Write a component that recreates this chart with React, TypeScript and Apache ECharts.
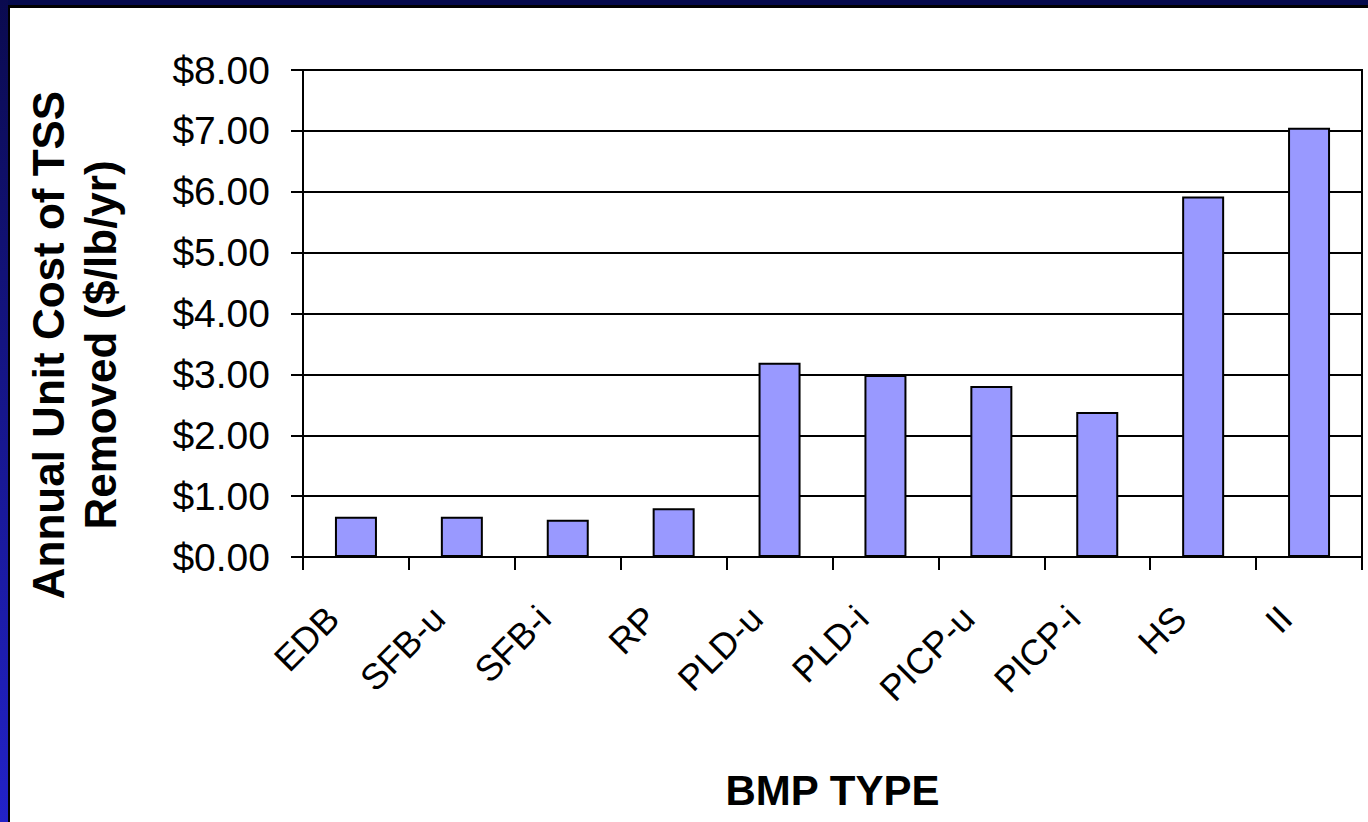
import React, { useEffect, useRef } from "react";
import * as echarts from "echarts";

const categories = ["EDB", "SFB-u", "SFB-i", "RP", "PLD-u", "PLD-i", "PICP-u", "PICP-i", "HS", "II"];
const costs = [0.66, 0.66, 0.61, 0.8, 3.19, 2.99, 2.81, 2.38, 5.92, 7.05];
const yTitleLines = ["Annual Unit Cost of TSS", "Removed ($/lb/yr)"];
const xTitle = "BMP TYPE";

const FONT = "'Liberation Sans', Arial, Helvetica, sans-serif";

export default function App() {
  const ref = useRef<HTMLDivElement>(null);
  useEffect(() => {
    if (!ref.current) return;
    const chart = echarts.init(ref.current, undefined, { renderer: "svg" });
    chart.setOption({
      animation: false,
      backgroundColor: "#ffffff",
      grid: {
        left: 303,
        right: 6,
        top: 70,
        bottom: 265,
        show: true,
        borderColor: "#000",
        borderWidth: 2,
        backgroundColor: "transparent",
      },
      xAxis: {
        type: "category",
        data: categories,
        name: xTitle,
        nameLocation: "middle",
        nameGap: 212,
        nameTextStyle: { fontFamily: FONT, fontSize: 42, fontWeight: "bold", color: "#000" },
        axisLine: { lineStyle: { color: "#000", width: 2 } },
        axisTick: { show: true, length: 13, lineStyle: { color: "#000", width: 2 } },
        axisLabel: {
          rotate: 45,
          margin: 32,
          padding: [0, 33, 0, 0],
          fontFamily: FONT,
          fontSize: 36,
          color: "#000",
          interval: 0,
        },
      },
      yAxis: {
        type: "value",
        min: 0,
        max: 8,
        interval: 1,
        axisLine: { show: true, lineStyle: { color: "#000", width: 2 } },
        axisTick: { show: true, length: 12, lineStyle: { color: "#000", width: 2 } },
        axisLabel: {
          margin: 33,
          fontFamily: FONT,
          fontSize: 39,
          color: "#000",
          formatter: (v: number) => "$" + v.toFixed(2),
        },
        splitLine: { show: true, lineStyle: { color: "#000", width: 2 } },
      },
      series: [
        {
          type: "bar",
          data: costs,
          barWidth: 42,
          itemStyle: { color: "#9999FF", borderColor: "#000", borderWidth: 2 },
        },
      ],
      graphic: [
        { type: "rect", left: 0, top: 0, shape: { width: 1368, height: 5 }, style: { fill: "#050a4d" }, silent: true },
        { type: "rect", left: 0, top: 5, shape: { width: 1368, height: 3 }, style: { fill: "#000" }, silent: true },
        {
          type: "rect",
          left: 0,
          top: 0,
          shape: { width: 8, height: 822 },
          style: {
            fill: new echarts.graphic.LinearGradient(0, 0, 0, 1, [
              { offset: 0, color: "#0a0a4f" },
              { offset: 1, color: "#2222c8" },
            ]),
          },
          silent: true,
        },
        { type: "rect", left: 8, top: 5, shape: { width: 2, height: 817 }, style: { fill: "#000" }, silent: true },
        {
          type: "text",
          x: 74,
          y: 345,
          rotation: Math.PI / 2,
          style: {
            text: yTitleLines.join("\n"),
            fontFamily: FONT,
            fontSize: 44,
            fontWeight: "bold",
            fill: "#000",
            align: "center",
            verticalAlign: "middle",
            lineHeight: 52,
          },
        },
      ],
    });
    return () => chart.dispose();
  }, []);
  return (
    <div
      ref={ref}
      style={{ position: "fixed", left: 0, top: 0, width: 1368, height: 822 }}
    />
  );
}
